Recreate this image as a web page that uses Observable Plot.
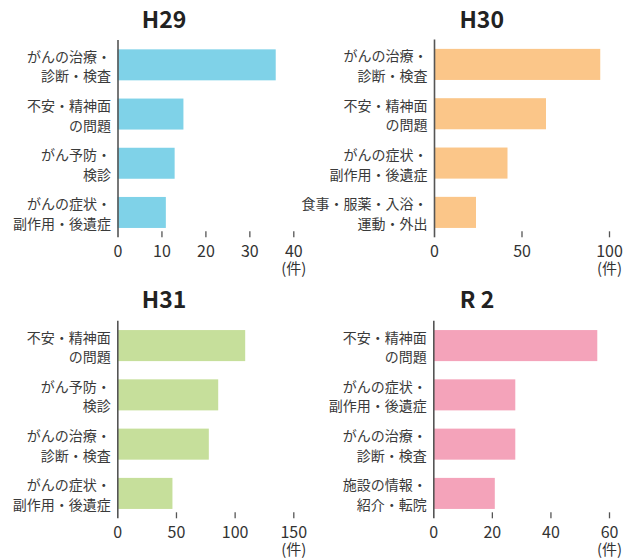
<!DOCTYPE html>
<html>
<head>
<meta charset="utf-8">
<script src="https://cdn.jsdelivr.net/npm/d3@7"></script>
<script src="https://cdn.jsdelivr.net/npm/@observablehq/plot@0.6"></script>
<style>
  body { margin: 0; background: #fff; font-family: "Noto Sans CJK JP", sans-serif; }
  #wrap { position: relative; width: 629px; height: 559px; overflow: hidden; }
  .panel { position: absolute; }
  .panel svg { overflow: visible; }
  .title {
    position: absolute; font-size: 23px; font-weight: bold; color: #222;
    line-height: 1; white-space: pre; transform: translateX(-50%);
  }
</style>
</head>
<body>
<div id="wrap"></div>
<script>
// Consultation counts by topic, per fiscal year (件)
const h29Labels = ["がんの治療・\n診断・検査", "不安・精神面\nの問題", "がん予防・\n検診", "がんの症状・\n副作用・後遺症"];
const h29Values = [36, 15, 13, 11];
const h29Ticks = [0, 10, 20, 30, 40];

const h30Labels = ["がんの治療・\n診断・検査", "不安・精神面\nの問題", "がんの症状・\n副作用・後遺症", "食事・服薬・入浴・\n運動・外出"];
const h30Values = [95, 64, 42, 24];
const h30Ticks = [0, 50, 100];

const h31Labels = ["不安・精神面\nの問題", "がん予防・\n検診", "がんの治療・\n診断・検査", "がんの症状・\n副作用・後遺症"];
const h31Values = [109, 86, 78, 47];
const h31Ticks = [0, 50, 100, 150];

const r2Labels = ["不安・精神面\nの問題", "がんの症状・\n副作用・後遺症", "がんの治療・\n診断・検査", "施設の情報・\n紹介・転院"];
const r2Values = [56, 28, 28, 21];
const r2Ticks = [0, 20, 40, 60];

const unitLabel = "(件)";

const panels = [
  {title: "H29", labels: h29Labels, values: h29Values, ticks: h29Ticks, color: "#7fd2e8",
   left: 0, top: 30, width: 314, marginLeft: 117.5, marginRight: 20.7, marginTop: 10, titleX: 164, titleTop: 6.5},
  {title: "H30", labels: h30Labels, values: h30Values, ticks: h30Ticks, color: "#fbc689",
   left: 314, top: 30, width: 315, marginLeft: 120, marginRight: 20, marginTop: 9.5, titleX: 481.7, titleTop: 6.5},
  {title: "H31", labels: h31Labels, values: h31Values, ticks: h31Ticks, color: "#c6df9b",
   left: 0, top: 311, width: 314, marginLeft: 117.3, marginRight: 20.7, marginTop: 9.7, titleX: 164, titleTop: 286.5},
  {title: "R 2", labels: r2Labels, values: r2Values, ticks: r2Ticks, color: "#f4a3ba",
   left: 314, top: 311, width: 315, marginLeft: 119.3, marginRight: 20, marginTop: 9.7, titleX: 477, titleTop: 286.5}
];

const wrap = document.getElementById("wrap");
const axisColor = "#555";
const textColor = "#333";
const height = 248;
const marginBottom = 40.7;

for (const p of panels) {
  const rows = p.labels.map((label, i) => ({label, value: p.values[i]}));
  const frameH = height - p.marginTop - marginBottom;
  const xMax = p.ticks[p.ticks.length - 1];

  const chart = Plot.plot({
    width: p.width,
    height,
    marginLeft: p.marginLeft,
    marginRight: p.marginRight,
    marginTop: p.marginTop,
    marginBottom,
    style: {fontFamily: "'Noto Sans CJK JP', sans-serif", background: "transparent", overflow: "visible"},
    x: {domain: [0, xMax], axis: null},
    y: {domain: p.labels, paddingInner: 0.37, paddingOuter: 0.19, round: false, axis: null},
    marks: [
      Plot.barX(rows, {x: "value", y: "label", fill: p.color}),
      // inward tick marks along the bottom axis
      Plot.ruleX(p.ticks.slice(1), {stroke: axisColor, strokeWidth: 1.3, insetTop: frameH - 6}),
      Plot.ruleX([0], {stroke: axisColor, strokeWidth: 1.6}),
      Plot.axisX({ticks: p.ticks, tickSize: 0, tickPadding: 8, line: true, label: null,
                  stroke: axisColor, strokeWidth: 1.6, fill: textColor, fontSize: 16}),
      Plot.axisY({tickSize: 0, tickPadding: 7, lineHeight: 1.4, label: null, fill: "#3a3a3a", fontSize: 14}),
      // unit label under the last tick value
      Plot.text([xMax], {x: d => d, text: () => unitLabel, frameAnchor: "bottom", lineAnchor: "middle",
                         dy: 31, fill: textColor, fontSize: 15})
    ]
  });

  const div = document.createElement("div");
  div.className = "panel";
  div.style.left = p.left + "px";
  div.style.top = p.top + "px";
  div.appendChild(chart);
  wrap.appendChild(div);

  const t = document.createElement("div");
  t.className = "title";
  t.textContent = p.title;
  t.style.left = p.titleX + "px";
  t.style.top = p.titleTop + "px";
  wrap.appendChild(t);
}
</script>
</body>
</html>
